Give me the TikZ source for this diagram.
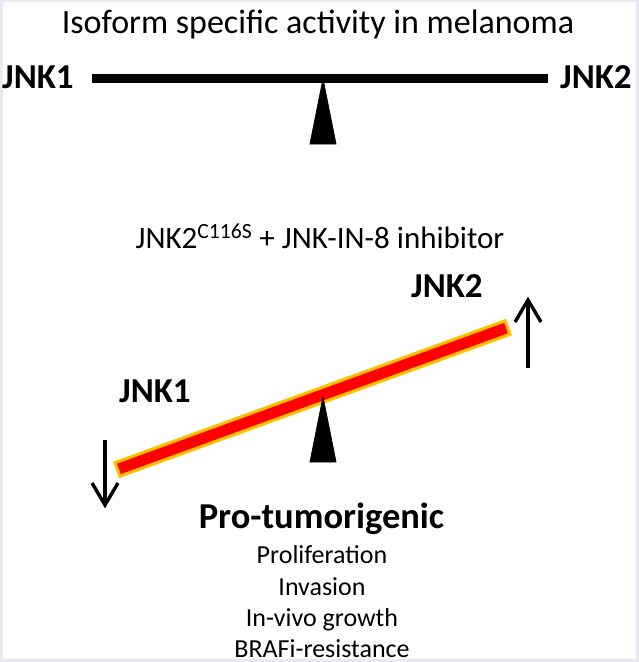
\documentclass[tikz,border=0pt]{standalone}
\usepackage{fontspec}
\setmainfont{Carlito}
\definecolor{lav}{HTML}{EDE7F4}
\definecolor{barred}{HTML}{FF0000}
\definecolor{baryel}{HTML}{FFC000}
\tikzset{
  lbl/.style={inner sep=0pt, font=\bfseries\fontsize{35}{40}\selectfont},
  txt/.style={inner sep=0pt, font=\fontsize{26}{30}\selectfont, anchor=base},
  fulcrum/.style={fill=black, draw=black, line width=0.8pt, line join=round},
  updown/.style={line width=3.4pt, line join=miter, miter limit=10}
}
\begin{document}
\begin{tikzpicture}[x=1pt,y=-1pt]
\useasboundingbox (0,0) rectangle (639,662);
\fill[lav] (0,0) rectangle (639,662);
\fill[white] (3,2) rectangle (636,659);

% title
\node[inner sep=0pt, anchor=base, font=\fontsize{34}{40}\selectfont] (title) at (318,33) {Isoform specific activity in melanoma};

% top balance
\node[lbl, anchor=base west] (jnk1a) at (2,88) {JNK1};
\node[lbl, anchor=base west] (jnk2a) at (560,88) {JNK2};
\coordinate (tbl) at (92,78.5);
\coordinate (tbr) at (548,78.5);
\draw[line width=9.5pt] (tbl) -- (tbr);
\coordinate (tap) at (323,79);
\draw[fulcrum] (tap) -- (336,144) -- (310,144) -- cycle;

% inhibitor text
\node[inner sep=0pt, anchor=base, font=\fontsize{31}{36}\selectfont] (inh) at (320,248) {JNK2\textsuperscript{C116S} + JNK-IN-8 inhibitor};

% lower balance
\node[lbl, anchor=base west] (jnk2b) at (411,297) {JNK2};
\node[lbl, anchor=base west] (jnk1b) at (119,402) {JNK1};
\coordinate (bl) at (116,470);
\coordinate (br) at (509,327);
\draw[baryel, line width=17.5pt] (bl) -- (br);
\draw[barred, line width=11pt, shorten <=3.2pt, shorten >=3.2pt] (bl) -- (br);
\coordinate (bap) at (323,397);
\draw[fulcrum] (bap) -- (336,462) -- (310,462) -- cycle;

% arrows
\coordinate (d1) at (105,440);
\coordinate (d2) at (105,505);
\draw[updown] (d1) -- (d2);
\draw[updown] (d2) ++(-13,-22) -- (d2) -- ++(13,-22);
\coordinate (u1) at (528,368);
\coordinate (u2) at (528,300);
\draw[updown] (u1) -- (u2);
\draw[updown] (u2) ++(-13,22) -- (u2) -- ++(13,22);

% outcome text
\node[inner sep=0pt, anchor=base, font=\bfseries\fontsize{36.5}{40}\selectfont] (pro) at (321.5,528) {Pro-tumorigenic};
\node[txt] (l1) at (322,563) {Proliferation};
\node[txt] (l2) at (322,595) {Invasion};
\node[txt] (l3) at (322,626) {In-vivo growth};
\node[txt] (l4) at (322,657) {BRAFi-resistance};
\end{tikzpicture}
\end{document}
